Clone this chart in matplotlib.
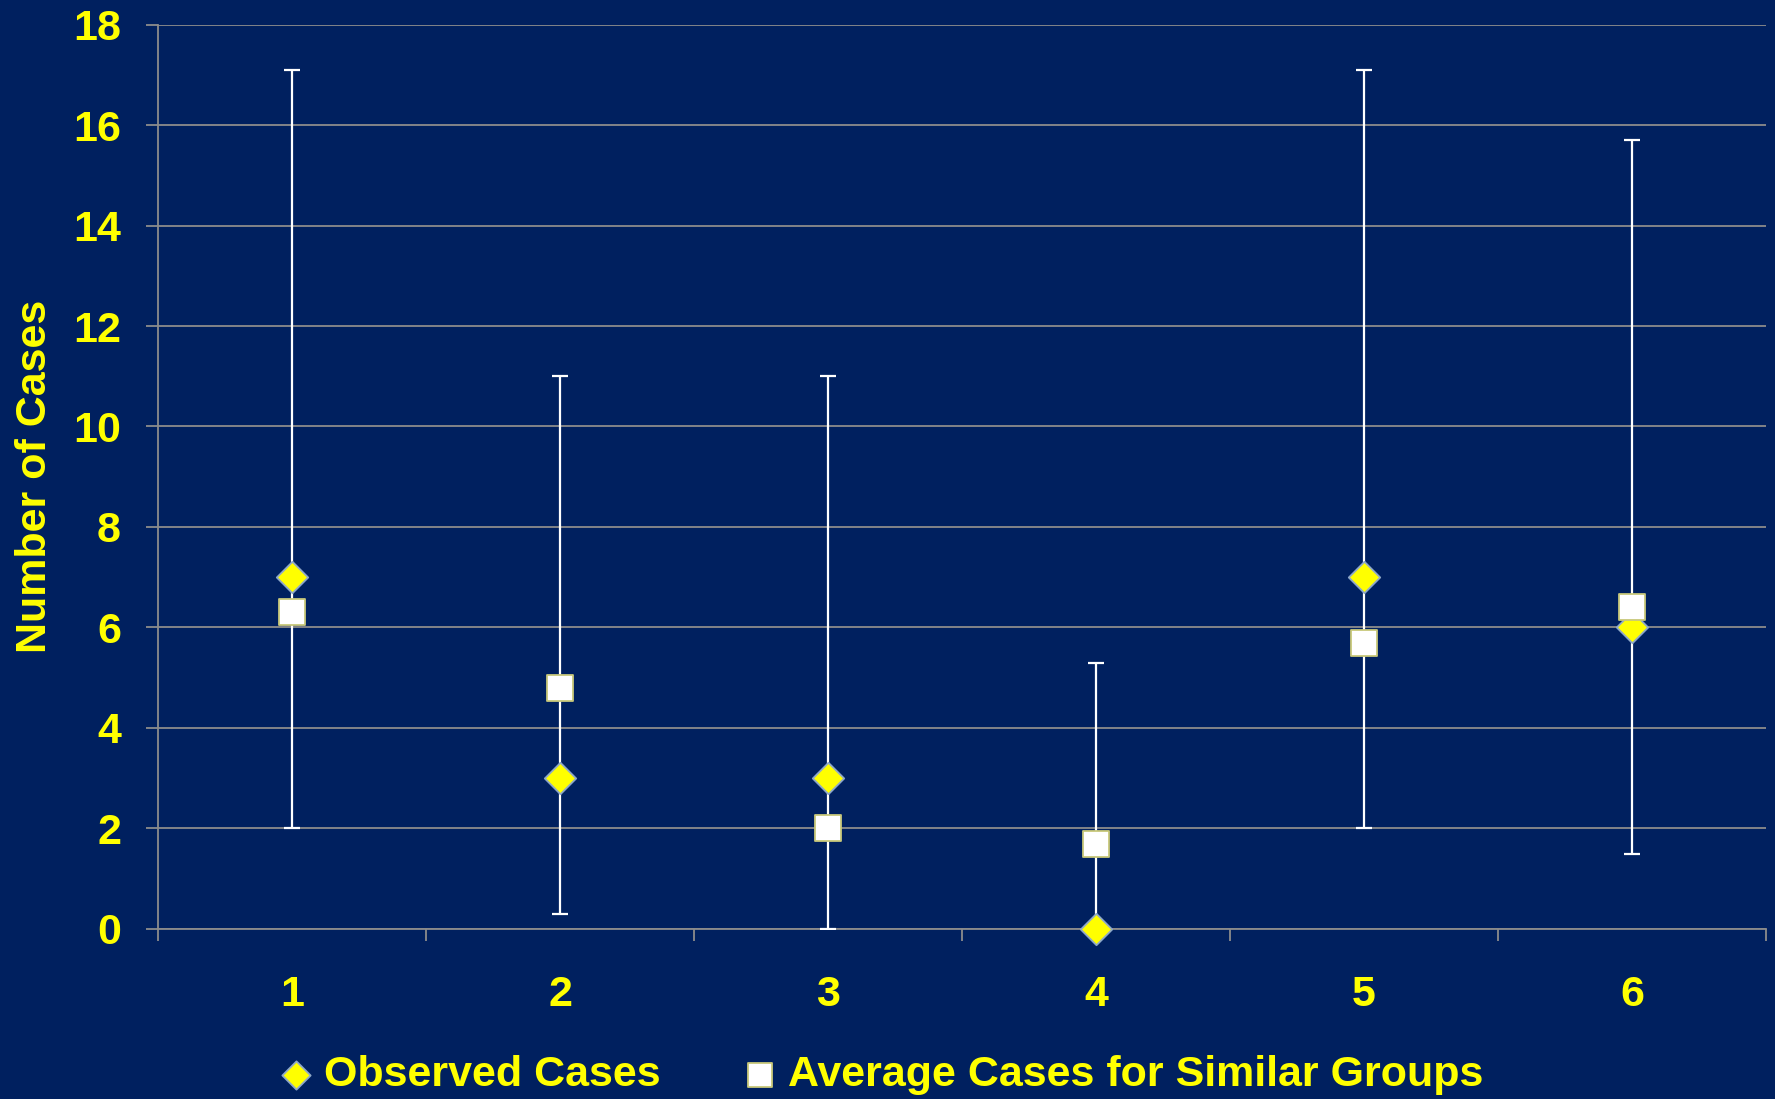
import numpy as np
import matplotlib.pyplot as plt

# data
groups = [1, 2, 3, 4, 5, 6]
observed = [7, 3, 3, 0, 7, 6]
average = [6.3, 4.8, 2.0, 1.7, 5.7, 6.4]
lower = [2.0, 0.3, 0.0, 0.0, 2.0, 1.5]
upper = [17.1, 11.0, 11.0, 5.3, 17.1, 15.7]

bg = "#00205F"
yellow = "#FFFF00"
grid_c = "#8C8C8C"

plt.rcParams["font.family"] = ["Liberation Sans", "DejaVu Sans"]
plt.rcParams["font.weight"] = "bold"

fig = plt.figure(figsize=(17.75, 10.99), dpi=100, facecolor=bg)
ax = fig.add_axes([0.089, 0.1547, 0.906, 0.823])
ax.set_facecolor(bg)

x = np.array(groups)
avg = np.array(average)
yerr = [avg - np.array(lower), np.array(upper) - avg]

ax.errorbar(x, avg, yerr=yerr, fmt="none", ecolor="white", elinewidth=1.6,
            capsize=5.5, capthick=1.6, zorder=3)
ax.scatter(x, observed, marker="D", s=16 ** 2, color=yellow, edgecolor="#8FA8C8",
           linewidth=1.3, zorder=4, clip_on=False, label="Observed Cases")
ax.scatter(x, average, marker="s", s=19 ** 2, color="white", edgecolor="#C8C87A",
           linewidth=1.3, zorder=5, clip_on=False,
           label="Average Cases for Similar Groups")

ax.set_xlim(0.5, 6.5)
ax.set_ylim(0, 18)
ax.set_yticks(np.arange(0, 19, 2))
ax.set_xticks(groups)
ax.set_xticks(np.arange(0.5, 7, 1), minor=True)

ax.grid(axis="y", color=grid_c, linewidth=1.3, zorder=1)
ax.set_axisbelow(True)
for s in ["top", "right"]:
    ax.spines[s].set_visible(False)
for s in ["left", "bottom"]:
    ax.spines[s].set_color(grid_c)
    ax.spines[s].set_linewidth(1.3)

ax.tick_params(axis="y", colors=grid_c, labelcolor=yellow, labelsize=31,
               length=8.6, width=1.3, pad=18)
ax.tick_params(axis="x", which="major", length=0, labelcolor=yellow,
               labelsize=31, pad=33)
ax.tick_params(axis="x", which="minor", length=8.6, width=1.3, colors=grid_c)

ax.set_ylabel("Number of Cases", color=yellow, fontsize=31, fontweight="bold")
ax.yaxis.set_label_coords(-0.064, 0.5)

fig.legend(loc="center", bbox_to_anchor=(0.494, 0.022), ncol=2, frameon=False,
           fontsize=31, labelcolor=yellow, handletextpad=0.05, columnspacing=1.7,
           handlelength=1.2, scatterpoints=1, markerscale=0.9)

plt.savefig("out.png", dpi=100, facecolor=bg)
plt.close()
